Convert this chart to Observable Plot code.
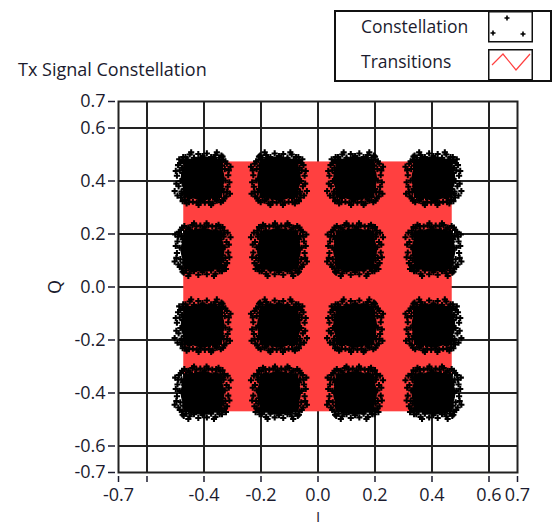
<!DOCTYPE html>
<html><head><meta charset="utf-8">
<script src="https://cdn.jsdelivr.net/npm/d3@7"></script>
<script src="https://cdn.jsdelivr.net/npm/@observablehq/plot@0.6"></script>
<style>
body{margin:0;background:#fff;}
#wrap{position:relative;width:554px;height:527px;overflow:hidden;font-family:"Open Sans",sans-serif;color:#1b1b2e;}
.t{position:absolute;white-space:nowrap;}
</style></head><body>
<div id="wrap">
<div id="chart" style="position:absolute;left:0;top:0"></div>
<div class="t" style="left:18px;top:60px;font-size:18px;line-height:18px;">Tx Signal Constellation</div>
<div style="position:absolute;left:334px;top:10px;width:214px;height:68px;border:2px solid #111;background:#fff;"></div>
<div class="t" style="left:361px;top:17.5px;font-size:17.5px;line-height:17.5px;">Constellation</div>
<div class="t" style="left:361px;top:52.5px;font-size:17.5px;line-height:17.5px;">Transitions</div>
<svg style="position:absolute;left:480px;top:5px" width="74" height="85">
  <rect x="8.75" y="6.75" width="43.5" height="30" fill="#fff" stroke="#111" stroke-width="1.5"/>
  <rect x="8.75" y="44.75" width="43.5" height="30" fill="#fff" stroke="#111" stroke-width="1.5"/>
  <g stroke="#000" stroke-width="1.6">
    <path d="M24.5,13H29.5M27,10.5V15.5"/>
    <path d="M10.5,28H15.5M13,25.5V30.5"/>
    <path d="M40.5,29H45.5M43,26.5V31.5"/>
  </g>
  <polyline points="12,60 23,49 36,65 50,49" fill="none" stroke="#ff4040" stroke-width="1.2"/>
</svg>
<div class="t" style="left:54px;top:287px;font-size:18px;line-height:18px;transform:translate(-50%,-50%) rotate(-90deg);">Q</div>
<div class="t" style="left:318px;top:509px;font-size:15px;line-height:15px;transform:translateX(-50%);">I</div>
</div>
<script>
const colI = [-0.405, -0.137, 0.13, 0.405];
const rowQ = [0.41, 0.14, -0.145, -0.40];
const offI = [-0.086,-0.080,-0.090,-0.078,-0.084,-0.074,-0.088,-0.070,-0.082,-0.076,-0.092,-0.072,
  0.085,0.078,0.090,0.080,0.088,0.074,0.083,0.072,0.092,0.076,0.086,0.094,
  -0.060,-0.045,-0.030,-0.015,0.000,0.015,0.030,0.045,0.058,-0.052,0.022,0.066,
  -0.062,-0.048,-0.034,-0.020,-0.006,0.008,0.022,0.036,0.050,0.064,-0.056,0.044,
  -0.068,0.070,-0.070,0.072,-0.060,0.060,0.010,-0.020,0.040,-0.040,0.064,-0.064,
  -0.070,-0.066,-0.072,-0.058,0.068,0.066,0.070,0.058,-0.030,0.004,0.040,-0.010,
  0.026,-0.046,-0.078,0.080,-0.094,0.096,-0.040,0.030,-0.098,0.098,0.050,-0.014];
const offQ = [0.050,0.030,0.010,-0.010,-0.030,-0.050,-0.065,0.065,0.072,-0.072,-0.020,0.040,
  0.055,0.035,0.012,-0.008,-0.032,-0.052,-0.068,0.070,0.030,-0.075,-0.050,-0.015,
  0.080,0.090,0.078,0.092,0.084,0.094,0.080,0.088,0.078,0.070,0.070,0.086,
  -0.082,-0.090,-0.088,-0.092,-0.086,-0.092,-0.088,-0.094,-0.084,-0.090,-0.095,-0.078,
  0.080,0.082,-0.086,-0.084,0.000,0.020,0.060,-0.066,-0.064,0.058,-0.030,-0.040,
  0.020,-0.012,-0.058,0.066,0.048,0.002,-0.040,-0.070,0.072,0.070,0.074,-0.076,
  -0.072,-0.074,0.058,0.064,0.028,-0.058,0.098,-0.100,-0.048,0.044,0.098,-0.100];
const transI = [-0.471, 0.471];
const transQ = [-0.471, 0.472];
const axisTicks = [-0.7,-0.6,-0.4,-0.2,0,0.2,0.4,0.6,0.7];
const xTickLabels = ["-0.7","","-0.4","-0.2","0.0","0.2","0.4","0.6","0.7"];
const yTickLabels = ["-0.7","-0.6","-0.4","-0.2","0.0","0.2","0.4","0.6","0.7"];
const gridTicks = [-0.6,-0.4,-0.2,0,0.2,0.4,0.6];

const centers = rowQ.flatMap((q, r) => colI.map((i, c) => ({i, q, r, c})));
const points = centers.flatMap(({i, q, r, c}) => offI.map((dx, k) => ({
  i: i + ((r + c) % 2 ? -dx : dx),
  q: q + (r % 2 ? -offQ[k] : offQ[k])
})));
const transitions = [{x1: transI[0], x2: transI[1], y1: transQ[0], y2: transQ[1]}];

const plot = Plot.plot({
  width: 554, height: 527,
  marginTop: 101, marginBottom: 55, marginLeft: 118, marginRight: 37,
  x: {domain: [-0.7, 0.7]},
  y: {domain: [-0.7, 0.7]},
  style: {fontFamily: "Open Sans, sans-serif", fontSize: "18px", color: "#1b1b2e", background: "white"},
  marks: [
    Plot.gridX({ticks: gridTicks, stroke: "#222", strokeOpacity: 1, strokeWidth: 2}),
    Plot.gridY({ticks: gridTicks, stroke: "#222", strokeOpacity: 1, strokeWidth: 2}),
    Plot.rect(transitions, {x1: "x1", x2: "x2", y1: "y1", y2: "y2", fill: "#ff4040"}),
    Plot.dot(centers, {x: "i", y: "q", symbol: "square", r: 22, fill: "black"}),
    Plot.dot(centers, {x: "i", y: "q", r: 22, fill: "black"}),
    Plot.dot(points, {x: "i", y: "q", symbol: "cross", r: 2.6, fill: "black"}),
    Plot.frame({stroke: "#222", strokeWidth: 2}),
    Plot.axisX({ticks: axisTicks, tickFormat: d => xTickLabels[axisTicks.indexOf(d)], tickSize: 6, tickPadding: 6, dy: 4, strokeWidth: 1.5, label: null}),
    Plot.axisY({ticks: axisTicks, tickFormat: d => yTickLabels[axisTicks.indexOf(d)], tickSize: 7, tickPadding: 3, dx: -3, strokeWidth: 1.5, label: null})
  ]
});
document.getElementById("chart").appendChild(plot);
</script>
</body></html>
